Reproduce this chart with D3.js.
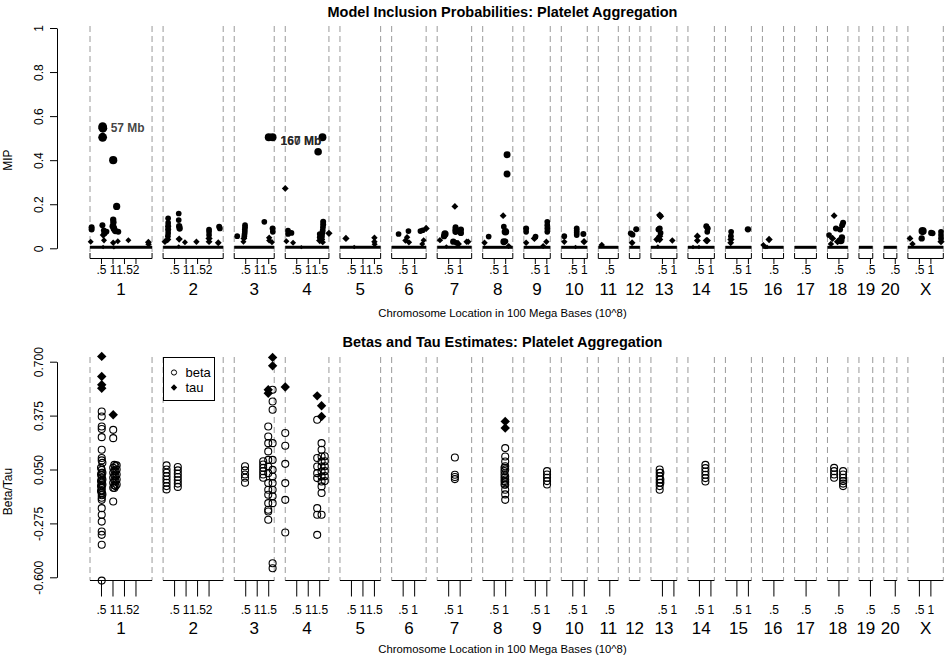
<!DOCTYPE html>
<html>
<head>
<meta charset="utf-8">
<script src="https://cdn.jsdelivr.net/npm/d3@7"></script>
<style>
	body { margin: 0; background: #fff; }
	svg { font-family: "Liberation Sans", Arial, sans-serif; }
</style>
</head>
<body>
<div id="js_chart"></div>
<script>
(function () {
	'use strict';

	// chromosome layout (lengths in Mb, ticks in 100 Mb)
	const chromNames = ['1', '2', '3', '4', '5', '6', '7', '8', '9', '10', '11', '12', '13', '14', '15', '16', '17', '18', '19', '20', 'X'];
	const chromLengths = [270, 261.5, 174, 190, 177, 150, 150, 131, 115, 113, 87, 46, 113, 115, 113, 92, 95, 89, 60, 57, 154];
	const chromGap = 48;
	const chromTicks = [[.5, 1, 1.5, 2], [.5, 1, 1.5, 2], [.5, 1, 1.5], [.5, 1, 1.5], [.5, 1, 1.5], [.5, 1], [.5, 1], [.5, 1], [.5, 1], [.5, 1],
		[.5], [], [.5, 1], [.5, 1], [.5, 1], [.5], [.5], [.5], [.5], [.5], [.5, 1]];

	const mipTicks = [0, 0.2, 0.4, 0.6, 0.8, 1];
	const betaTicks = [-0.6, -0.275, 0.05, 0.375, 0.7];

	// [chromosome, position Mb, MIP, effect weight]
	const mipPoints = [
		['1', 55, 0.552, 1], ['1', 56, 0.545, 1], ['1', 55, 0.504, 1], ['1', 101, 0.40, 0.9], ['1', 116, 0.19, 0.75],
		['1', 101, 0.13, 0.6], ['1', 102, 0.118, 0.6], ['1', 100, 0.10, 0.7], ['1', 104, 0.09, 0.65], ['1', 106, 0.085, 0.6], ['1', 110, 0.078, 0.6],
		['1', 54, 0.105, 0.55], ['1', 7, 0.095, 0.55], ['1', 7, 0.085, 0.55], ['1', 60, 0.082, 0.5], ['1', 63, 0.07, 0.6], ['1', 66, 0.075, 0.55],
		['1', 72, 0.076, 0.5], ['1', 58, 0.06, 0.45], ['1', 123, 0.075, 0.55], ['1', 61, 0.036, 0.3], ['1', 3, 0.03, 0.3], ['1', 121, 0.032, 0.3],
		['1', 101, 0.025, 0.35], ['1', 167, 0.037, 0.3], ['1', 254, 0.028, 0.4], ['1', 255, 0.018, 0.35], ['1', 57, 0.006, 0.1], ['1', 104, 0.004, 0.1],
		['2', 68, 0.158, 0.5], ['2', 68, 0.128, 0.5], ['2', 70, 0.10, 0.6], ['2', 72, 0.09, 0.6], ['2', 22, 0.136, 0.5], ['2', 22, 0.115, 0.5],
		['2', 22, 0.10, 0.55], ['2', 22, 0.085, 0.55], ['2', 22, 0.07, 0.5], ['2', 21, 0.055, 0.5], ['2', 20, 0.04, 0.45], ['2', 8, 0.03, 0.4],
		['2', 70, 0.042, 0.45], ['2', 95, 0.027, 0.3], ['2', 145, 0.03, 0.35], ['2', 200, 0.085, 0.5], ['2', 200, 0.075, 0.5], ['2', 200, 0.06, 0.5],
		['2', 200, 0.045, 0.45], ['2', 200, 0.03, 0.4], ['2', 240, 0.025, 0.4], ['2', 244, 0.098, 0.55], ['2', 247, 0.09, 0.5], ['2', 68, 0.008, 0.1],
		['3', 150, 0.504, 0.85], ['3', 167, 0.504, 0.85], ['3', 131, 0.12, 0.5], ['3', 47, 0.105, 0.5], ['3', 47, 0.095, 0.5], ['3', 46, 0.085, 0.5],
		['3', 46, 0.075, 0.5], ['3', 45, 0.065, 0.5], ['3', 44, 0.055, 0.5], ['3', 42, 0.045, 0.4], ['3', 40, 0.03, 0.3], ['3', 13, 0.055, 0.5],
		['3', 167, 0.09, 0.55], ['3', 168, 0.075, 0.5], ['3', 152, 0.048, 0.35], ['3', 152, 0.035, 0.3], ['3', 164, 0.028, 0.3],
		['4', 0, 0.272, 0.4], ['4', 162, 0.504, 0.85], ['4', 143, 0.438, 0.8], ['4', 12, 0.08, 0.5], ['4', 12, 0.065, 0.5], ['4', 27, 0.07, 0.5],
		['4', 5, 0.032, 0.3], ['4', 34, 0.025, 0.3], ['4', 70, 0.005, 0.1], ['4', 165, 0.12, 0.55], ['4', 165, 0.108, 0.55], ['4', 164, 0.095, 0.5],
		['4', 163, 0.082, 0.5], ['4', 162, 0.072, 0.5], ['4', 160, 0.06, 0.5], ['4', 159, 0.05, 0.5], ['4', 158, 0.04, 0.45], ['4', 163, 0.028, 0.35],
		['4', 150, 0.065, 0.5], ['4', 150, 0.05, 0.5], ['4', 150, 0.035, 0.45], ['4', 190, 0.068, 0.45],
		['5', 26, 0.045, 0.45], ['5', 62, 0.006, 0.1], ['5', 150, 0.048, 0.35], ['5', 150, 0.03, 0.35], ['5', 151, 0.018, 0.3],
		['6', 30, 0.065, 0.5], ['6', 73, 0.078, 0.5], ['6', 67, 0.05, 0.35], ['6', 60, 0.035, 0.35], ['6', 75, 0.027, 0.35], ['6', 125, 0.078, 0.5],
		['6', 135, 0.082, 0.5], ['6', 150, 0.09, 0.45], ['6', 139, 0.037, 0.3], ['6', 133, 0.02, 0.3],
		['7', 77, 0.19, 0.4], ['7', 34, 0.065, 0.75], ['7', 30, 0.055, 0.6], ['7', 12, 0.037, 0.35], ['7', 80, 0.095, 0.55], ['7', 80, 0.085, 0.6],
		['7', 80, 0.075, 0.6], ['7', 103, 0.085, 0.6], ['7', 103, 0.07, 0.6], ['7', 70, 0.03, 0.6], ['7', 85, 0.025, 0.5], ['7', 92, 0.02, 0.45],
		['7', 128, 0.03, 0.35], ['7', 135, 0.03, 0.35], ['7', 40, 0.008, 0.1],
		['8', 106, 0.425, 0.7], ['8', 106, 0.337, 0.7], ['8', 89, 0.148, 0.4], ['8', 92, 0.098, 0.5], ['8', 99, 0.075, 0.8], ['8', 92, 0.03, 0.7],
		['8', 99, 0.032, 0.5], ['8', 26, 0.053, 0.5], ['8', 8, 0.025, 0.35], ['8', 113, 0.01, 0.3],
		['9', 10, 0.09, 0.55], ['9', 10, 0.075, 0.5], ['9', 10, 0.025, 0.35], ['9', 51, 0.053, 0.5], ['9', 46, 0.045, 0.45], ['9', 102, 0.12, 0.5],
		['9', 102, 0.105, 0.5], ['9', 102, 0.09, 0.5], ['9', 102, 0.075, 0.5], ['9', 98, 0.03, 0.35], ['9', 84, 0.01, 0.3],
		['10', 13, 0.055, 0.5], ['10', 13, 0.03, 0.35], ['10', 67, 0.09, 0.5], ['10', 67, 0.08, 0.5], ['10', 67, 0.07, 0.5], ['10', 67, 0.06, 0.5],
		['10', 96, 0.065, 0.55], ['10', 99, 0.03, 0.45], ['10', 62, 0.006, 0.1],
		['11', 15, 0.015, 0.35],
		['12', 6, 0.068, 0.5], ['12', 14, 0.062, 0.5], ['12', 30, 0.086, 0.55], ['12', 12, 0.025, 0.4],
		['13', 38, 0.151, 0.45], ['13', 42, 0.145, 0.45], ['13', 38, 0.09, 0.55], ['13', 33, 0.085, 0.55], ['13', 42, 0.07, 0.5], ['13', 38, 0.055, 0.45],
		['13', 38, 0.04, 0.45], ['13', 25, 0.04, 0.4], ['13', 93, 0.035, 0.35], ['13', 30, 0.008, 0.1],
		['14', 80, 0.10, 0.55], ['14', 86, 0.09, 0.55], ['14', 84, 0.075, 0.5], ['14', 41, 0.055, 0.45], ['14', 41, 0.035, 0.4], ['14', 80, 0.035, 0.45],
		['14', 84, 0.035, 0.45], ['14', 22, 0.006, 0.1], ['14', 48, 0.006, 0.1],
		['15', 25, 0.075, 0.5], ['15', 24, 0.055, 0.5], ['15', 24, 0.04, 0.45], ['15', 23, 0.025, 0.4], ['15', 98, 0.086, 0.6],
		['16', 29, 0.04, 0.45], ['16', 4, 0.015, 0.3], ['16', 12, 0.006, 0.15], ['16', 20, 0.006, 0.15],
		['18', 29, 0.148, 0.4], ['18', 68, 0.116, 0.55], ['18', 64, 0.105, 0.55], ['18', 37, 0.09, 0.55], ['18', 55, 0.085, 0.55], ['18', 7, 0.06, 0.5],
		['18', 22, 0.045, 0.45], ['18', 58, 0.035, 0.8], ['18', 44, 0.03, 0.45], ['18', 15, 0.02, 0.35], ['18', 63, 0.05, 0.6],
		['X', 64, 0.078, 0.9], ['X', 101, 0.07, 0.55], ['X', 107, 0.068, 0.55], ['X', 144, 0.075, 0.5], ['X', 144, 0.06, 0.5], ['X', 144, 0.045, 0.5],
		['X', 144, 0.03, 0.45], ['X', 60, 0.045, 0.6], ['X', 9, 0.045, 0.4], ['X', 20, 0.02, 0.35]
	];

	// [chromosome, position Mb, MIP, text]
	const mipLabels = [
		['1', 55, 0.55, '57 Mb'],
		['3', 167, 0.49, '160 Mb'],
		['3', 167, 0.49, '167 Mb']
	];

	// [chromosome, position Mb, beta estimates]
	const betaGroups = [
		['1', 51, [0.40, 0.37, 0.309, 0.294, 0.245, 0.169, 0.119, 0.105, 0.048, 0.03, 0.015, 0, -0.015, -0.03, -0.045, -0.06, -0.075, -0.09, -0.105,
			-0.12, -0.133, -0.183, -0.223, -0.264, -0.324, -0.344, -0.404, -0.62]],
		['1', 48, [0.06, 0.02, -0.02, -0.05, -0.08]],
		['1', 54, [0.09, 0.03, -0.01, -0.04, -0.1]],
		['1', 101, [0.289, 0.239, -0.143, 0.06, 0.03, 0, -0.03, -0.06]],
		['1', 106, [0.078, 0.045, 0.015, -0.015, -0.045, -0.062]],
		['1', 111, [0.07, 0.04, 0.01, -0.02, -0.05]],
		['1', 116, [0.075, 0.05, 0.02, -0.01, -0.04]],
		['2', 15, [0.075, 0.05, 0.03, 0.01, -0.01, -0.03, -0.05, -0.07]],
		['2', 64, [0.065, 0.045, 0.025, 0.005, -0.015, -0.035, -0.055]],
		['3', 47, [0.07, 0.045, 0.02, 0, -0.03]],
		['3', 126, [0.10, 0.08, 0.06, 0.04, 0.02, 0]],
		['3', 148, [0.309, 0.249, 0.209, 0.159, 0.108, 0.068, 0.028, -0.032, -0.072, -0.102, -0.153, -0.193, -0.203, -0.253]],
		['3', 167, [0.531, 0.46, 0.41, 0.209, 0.108, 0.048, 0.008, -0.032, -0.072, -0.112, -0.153, -0.515, -0.545]],
		['4', 0, [0.27, 0.193, 0.084, -0.032, -0.133, -0.33]],
		['4', 139, [0.35, 0.119, 0.068, 0.028, -0.002, -0.183, -0.223, -0.344]],
		['4', 158, [0.209, 0.169, 0.128, 0.098, 0.068, 0.038, 0.008, -0.022, -0.052, -0.092, -0.223]],
		['4', 172, [0.13, 0.1, 0.07, 0.04, 0.01, -0.02]],
		['7', 77, [0.122, 0.018, 0.005, -0.008]],
		['8', 98, [0.179, 0.128, 0.098, 0.07, 0.05, 0.008, -0.01, -0.025, -0.042, -0.072, -0.1, -0.133]],
		['8', 95, [0.06, 0.04, 0.02, 0, -0.02, -0.04]],
		['9', 101, [0.04, 0.02, 0, -0.02, -0.04]],
		['13', 38, [0.05, 0.03, 0.01, -0.01, -0.03, -0.05, -0.072]],
		['13', 41, [0.03, -0.01, -0.03]],
		['14', 76, [0.078, 0.058, 0.038, 0.018, -0.002, -0.022]],
		['18', 29, [0.06, 0.04, 0.02, 0]],
		['18', 68, [0.04, 0.02, 0, -0.02, -0.035, -0.05]]
	];

	// [chromosome, position Mb, tau]
	const tauPoints = [
		['1', 51, 0.732], ['1', 51, 0.611], ['1', 51, 0.561], ['1', 51, 0.54], ['1', 101, 0.38],
		['3', 167, 0.726], ['3', 167, 0.675], ['3', 148, 0.531], ['3', 148, 0.51],
		['4', 0, 0.547], ['4', 139, 0.494], ['4', 158, 0.434], ['4', 158, 0.37],
		['8', 98, 0.34], ['8', 98, 0.30]
	];

	const xTitle = 'Chromosome Location in 100 Mega Bases (10^8)';
	const colorDash = '#9a9a9a';
	const colorText = '#000';

	let chromStart = {};
	let acc = 0;
	chromNames.forEach(function (c, i) {
		chromStart[c] = acc;
		acc += chromLengths[i] + chromGap;
	});
	const span = acc - chromGap;
	const xScale = d3.scaleLinear().domain([0, span]).range([90, 943.3]);
	function gx(chr, mb) { return xScale(chromStart[chr] + mb); }

	const svg = d3.select('#js_chart').append('svg')
		.attr('width', 950)
		.attr('height', 660);

	function diamondPath(h) {
		return 'M0,' + (-h) + 'L' + h + ',0L0,' + h + 'L' + (-h) + ',0Z';
	}

	function drawYAxis(panel) {
		let g = svg.append('g')
			.attr('transform', 'translate(57,0)')
			.call(d3.axisLeft(panel.y).tickValues(panel.ticks).tickSize(7).tickSizeOuter(0).tickFormat(panel.fmt));
		g.select('.domain').attr('stroke', '#000');
		g.selectAll('.tick line').attr('stroke', '#000');
		g.selectAll('.tick text')
			.attr('transform', 'rotate(-90)')
			.attr('x', 0).attr('y', -14.5).attr('dy', 0)
			.attr('text-anchor', 'middle')
			.style('font-size', '12px')
			.style('font-family', '"Liberation Sans", Arial, sans-serif')
			.attr('fill', colorText);
		let yMid = (panel.y.range()[0] + panel.y.range()[1]) / 2 + 22;
		svg.append('text')
			.attr('transform', 'translate(12,' + yMid + ') rotate(-90)')
			.attr('text-anchor', 'middle')
			.style('font-size', '12px')
			.attr('fill', colorText)
			.text(panel.yLabel);
	}

	function drawChromFrame(panel) {
		let g = svg.append('g');
		chromNames.forEach(function (c, i) {
			let x0 = gx(c, 0), x1 = gx(c, chromLengths[i]);
			[x0, x1].forEach(function (x) {
				g.append('line')
					.attr('x1', x).attr('x2', x)
					.attr('y1', panel.dashTop).attr('y2', panel.dashBottom)
					.attr('stroke', colorDash)
					.attr('stroke-dasharray', '6,4');
			});
			if (panel.bracket) {
				g.append('path')
					.attr('d', 'M' + x0 + ',' + (panel.axisY - 5.5) + 'V' + panel.axisY + 'H' + x1 + 'V' + (panel.axisY - 5.5))
					.attr('fill', 'none').attr('stroke', '#000');
			} else {
				g.append('line')
					.attr('x1', x0).attr('x2', x1)
					.attr('y1', panel.axisY).attr('y2', panel.axisY)
					.attr('stroke', '#000');
			}
			chromTicks[i].forEach(function (t) {
				let x = gx(c, t * 100);
				g.append('line')
					.attr('x1', x).attr('x2', x)
					.attr('y1', panel.axisY).attr('y2', panel.axisY + panel.tickLen)
					.attr('stroke', '#000');
				g.append('text')
					.attr('x', x).attr('y', panel.tickLabelY)
					.attr('text-anchor', 'middle')
					.style('font-size', '12px')
					.attr('fill', colorText)
					.text(String(t).replace(/^0\./, '.'));
			});
			g.append('text')
				.attr('x', (x0 + x1) / 2).attr('y', panel.chromLabelY)
				.attr('text-anchor', 'middle')
				.style('font-size', '17px')
				.attr('fill', colorText)
				.text(c);
		});
		svg.append('text')
			.attr('x', 502.5).attr('y', panel.xTitleY)
			.attr('text-anchor', 'middle')
			.style('font-size', '11.3px')
			.attr('fill', colorText)
			.text(xTitle);
		svg.append('text')
			.attr('x', 502.5).attr('y', panel.titleY)
			.attr('text-anchor', 'middle')
			.style('font-size', '14.5px')
			.style('font-weight', 'bold')
			.attr('fill', colorText)
			.text(panel.title);
	}

	function drawMip(panel) {
		let y = panel.y;
		let rScale = d3.scaleLinear().domain([0, 1]).range([1.3, 4.4]);
		// zero baseline of all markers
		svg.append('g').selectAll('line')
			.data(chromNames).enter().append('line')
			.attr('x1', function (c) { return gx(c, 0); })
			.attr('x2', function (c, i) { return gx(c, chromLengths[i]); })
			.attr('y1', y(0) - 1).attr('y2', y(0) - 1)
			.attr('stroke', '#000')
			.attr('stroke-width', 3);
		svg.append('g').selectAll('path')
			.data(mipPoints).enter().append('path')
			.attr('transform', function (d) { return 'translate(' + gx(d[0], d[1]) + ',' + y(d[2]) + ')'; })
			.attr('d', function (d) {
				let r = rScale(d[3]);
				if (d[3] < 0.5) return diamondPath(r * 1.35);
				return d3.symbol().type(d3.symbolCircle).size(Math.PI * r * r)();
			})
			.attr('fill', '#000');
		svg.append('g').selectAll('text')
			.data(mipLabels).enter().append('text')
			.attr('x', function (d) { return gx(d[0], d[1]) + 8; })
			.attr('y', function (d) { return y(d[2]) + 5; })
			.style('font-size', '12px')
			.style('font-weight', 'bold')
			.attr('fill', '#222')
			.attr('fill-opacity', 0.85)
			.text(function (d) { return d[3]; });
	}

	function drawBetaTau(panel) {
		let y = panel.y;
		let betas = [];
		betaGroups.forEach(function (g) {
			g[2].forEach(function (v) { betas.push([g[0], g[1], v]); });
		});
		svg.append('g').selectAll('circle')
			.data(betas).enter().append('circle')
			.attr('cx', function (d) { return gx(d[0], d[1]); })
			.attr('cy', function (d) { return y(d[2]); })
			.attr('r', 3.5)
			.attr('fill', 'none')
			.attr('stroke', '#000')
			.attr('stroke-width', 1.1);
		svg.append('g').selectAll('path')
			.data(tauPoints).enter().append('path')
			.attr('transform', function (d) { return 'translate(' + gx(d[0], d[1]) + ',' + y(d[2]) + ')'; })
			.attr('d', diamondPath(4.7))
			.attr('fill', '#000');

		// legend
		let lg = svg.append('g').attr('transform', 'translate(163.5,357.5)');
		lg.append('rect')
			.attr('width', 51).attr('height', 43)
			.attr('fill', '#fff').attr('stroke', '#000');
		lg.append('circle').attr('cx', 10.5).attr('cy', 15).attr('r', 2.6)
			.attr('fill', 'none').attr('stroke', '#000');
		lg.append('path').attr('transform', 'translate(10.5,30)').attr('d', diamondPath(3.2)).attr('fill', '#000');
		lg.append('text').attr('x', 22).attr('y', 19.5).style('font-size', '13px').text('beta');
		lg.append('text').attr('x', 22).attr('y', 34.5).style('font-size', '13px').text('tau');
	}

	const topPanel = {
		title: 'Model Inclusion Probabilities: Platelet Aggregation',
		yLabel: 'MIP',
		y: d3.scaleLinear().domain([0, 1]).range([248.3, 28]),
		ticks: mipTicks,
		fmt: function (d) { return String(d); },
		dashTop: 26, dashBottom: 253,
		bracket: true, axisY: 258.5, tickLen: 5.5,
		tickLabelY: 273.5, chromLabelY: 295, xTitleY: 316.5, titleY: 17
	};
	const bottomPanel = {
		title: 'Betas and Tau Estimates: Platelet Aggregation',
		yLabel: 'Beta/Tau',
		y: d3.scaleLinear().domain([-0.6, 0.7]).range([577.3, 361.7]),
		ticks: betaTicks,
		fmt: function (d) { return d.toFixed(3); },
		dashTop: 357, dashBottom: 580.5,
		bracket: false, axisY: 580.5, tickLen: 16,
		tickLabelY: 613.5, chromLabelY: 634, xTitleY: 652.5, titleY: 347
	};

	drawChromFrame(topPanel);
	drawYAxis(topPanel);
	drawMip(topPanel);
	drawChromFrame(bottomPanel);
	drawYAxis(bottomPanel);
	drawBetaTau(bottomPanel);
})();
</script>
</body>
</html>
